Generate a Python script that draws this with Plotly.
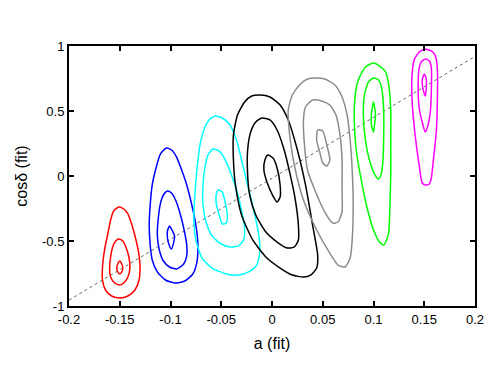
import plotly.graph_objects as go

# tick labels
x_ticks = [-0.2, -0.15, -0.1, -0.05, 0, 0.05, 0.1, 0.15, 0.2]
x_labels = ["-0.2", "-0.15", "-0.1", "-0.05", "0", "0.05", "0.1", "0.15", "0.2"]
y_ticks = [-1, -0.5, 0, 0.5, 1]
y_labels = ["-1", "-0.5", "0", "0.5", "1"]

# diagonal reference line
diag_x = [-0.2, 0.2]
diag_y = [-0.955, 0.92]

# contour loops (outer, middle, inner per input value)
red_outer_x = [-0.151,-0.146,-0.142,-0.138,-0.134,-0.131,-0.130,-0.131,-0.135,-0.142,-0.150,-0.158,-0.164,-0.167,-0.167,-0.165,-0.162,-0.159,-0.156,-0.151]
red_outer_y = [-0.238,-0.254,-0.292,-0.377,-0.492,-0.608,-0.708,-0.800,-0.877,-0.923,-0.938,-0.923,-0.877,-0.800,-0.700,-0.569,-0.454,-0.338,-0.269,-0.238]
red_mid_x = [-0.151,-0.147,-0.144,-0.141,-0.140,-0.142,-0.146,-0.150,-0.155,-0.159,-0.160,-0.159,-0.157,-0.154,-0.151]
red_mid_y = [-0.485,-0.500,-0.546,-0.623,-0.708,-0.777,-0.823,-0.838,-0.823,-0.777,-0.708,-0.623,-0.546,-0.500,-0.485]
red_in_x = [-0.150,-0.148,-0.147,-0.148,-0.150,-0.152,-0.153,-0.152,-0.150]
red_in_y = [-0.654,-0.677,-0.708,-0.738,-0.754,-0.738,-0.708,-0.677,-0.654]

blue_out_x = [-0.104,-0.099,-0.094,-0.089,-0.084,-0.079,-0.075,-0.073,-0.074,-0.078,-0.086,-0.096,-0.105,-0.113,-0.118,-0.120,-0.121,-0.120,-0.118,-0.114,-0.110,-0.104]
blue_out_y = [0.215,0.200,0.146,0.046,-0.069,-0.223,-0.377,-0.531,-0.662,-0.754,-0.808,-0.823,-0.800,-0.738,-0.646,-0.531,-0.377,-0.223,-0.069,0.069,0.169,0.215]
blue_mid_x = [-0.103,-0.099,-0.095,-0.091,-0.087,-0.084,-0.084,-0.087,-0.094,-0.101,-0.107,-0.111,-0.113,-0.112,-0.110,-0.107,-0.103]
blue_mid_y = [-0.115,-0.131,-0.185,-0.277,-0.400,-0.531,-0.615,-0.677,-0.715,-0.700,-0.654,-0.569,-0.454,-0.323,-0.215,-0.146,-0.115]
blue_in_x = [-0.101,-0.099,-0.096,-0.097,-0.099,-0.101,-0.103,-0.103,-0.101]
blue_in_y = [-0.385,-0.408,-0.462,-0.515,-0.562,-0.538,-0.477,-0.423,-0.385]

cyan_out_x = [-0.056,-0.049,-0.042,-0.035,-0.030,-0.024,-0.018,-0.013,-0.012,-0.015,-0.023,-0.033,-0.045,-0.059,-0.069,-0.075,-0.077,-0.076,-0.074,-0.071,-0.066,-0.062,-0.056]
cyan_out_y = [0.462,0.446,0.400,0.277,0.123,-0.069,-0.262,-0.454,-0.585,-0.685,-0.738,-0.762,-0.754,-0.708,-0.631,-0.492,-0.338,-0.146,0.046,0.238,0.377,0.431,0.462]
cyan_mid_x = [-0.058,-0.052,-0.047,-0.041,-0.035,-0.030,-0.027,-0.028,-0.033,-0.041,-0.050,-0.059,-0.065,-0.068,-0.068,-0.066,-0.063,-0.058]
cyan_mid_y = [0.208,0.192,0.138,0.031,-0.108,-0.262,-0.400,-0.492,-0.538,-0.546,-0.523,-0.462,-0.354,-0.223,-0.069,0.069,0.162,0.208]
cyan_in_x = [-0.053,-0.049,-0.046,-0.044,-0.045,-0.049,-0.052,-0.055,-0.055,-0.053]
cyan_in_y = [-0.108,-0.123,-0.208,-0.300,-0.362,-0.369,-0.300,-0.208,-0.146,-0.108]

black_out_x = [-0.012,-0.002,0.008,0.016,0.025,0.033,0.040,0.045,0.044,0.038,0.031,0.020,0.008,-0.005,-0.019,-0.030,-0.036,-0.038,-0.038,-0.034,-0.027,-0.020,-0.012]
black_out_y = [0.623,0.608,0.546,0.431,0.200,-0.069,-0.377,-0.608,-0.708,-0.762,-0.777,-0.762,-0.708,-0.631,-0.492,-0.300,-0.069,0.123,0.315,0.469,0.569,0.615,0.623]
black_mid_x = [-0.010,-0.002,0.005,0.012,0.018,0.023,0.026,0.026,0.022,0.015,0.005,-0.006,-0.016,-0.022,-0.024,-0.024,-0.021,-0.016,-0.010]
black_mid_y = [0.446,0.431,0.354,0.200,0.008,-0.185,-0.377,-0.492,-0.546,-0.554,-0.508,-0.431,-0.300,-0.146,0.008,0.200,0.338,0.415,0.446]
black_in_x = [-0.004,0.001,0.005,0.008,0.008,0.005,0.001,-0.005,-0.008,-0.007,-0.004]
black_in_y = [0.162,0.138,0.062,-0.069,-0.162,-0.200,-0.154,-0.046,0.046,0.123,0.162]

gray_out_x = [0.042,0.052,0.062,0.069,0.074,0.077,0.079,0.080,0.079,0.077,0.072,0.065,0.055,0.043,0.031,0.023,0.018,0.016,0.020,0.028,0.035,0.042]
gray_out_y = [0.754,0.746,0.700,0.608,0.469,0.277,0.046,-0.223,-0.492,-0.631,-0.700,-0.685,-0.569,-0.400,-0.185,0.046,0.277,0.508,0.623,0.708,0.746,0.754]
gray_mid_x = [0.040,0.049,0.057,0.063,0.067,0.069,0.069,0.069,0.065,0.060,0.052,0.043,0.035,0.032,0.031,0.033,0.040]
gray_mid_y = [0.585,0.577,0.546,0.469,0.315,0.123,-0.108,-0.277,-0.354,-0.362,-0.277,-0.123,0.046,0.238,0.431,0.531,0.585]
gray_in_x = [0.045,0.050,0.054,0.057,0.054,0.050,0.047,0.044,0.045]
gray_in_y = [0.354,0.346,0.238,0.123,0.077,0.100,0.185,0.277,0.354]

green_out_x = [0.100,0.106,0.112,0.115,0.117,0.117,0.117,0.116,0.115,0.112,0.110,0.106,0.100,0.093,0.087,0.083,0.081,0.082,0.085,0.092,0.100]
green_out_y = [0.869,0.846,0.800,0.700,0.508,0.277,0.008,-0.262,-0.431,-0.508,-0.531,-0.508,-0.415,-0.223,0.008,0.200,0.431,0.623,0.738,0.838,0.869]
green_mid_x = [0.100,0.105,0.108,0.110,0.110,0.109,0.107,0.105,0.101,0.096,0.092,0.090,0.091,0.095,0.100]
green_mid_y = [0.754,0.738,0.677,0.508,0.277,0.085,0.000,-0.023,0.015,0.123,0.277,0.469,0.623,0.723,0.754]
green_in_x = [0.100,0.101,0.102,0.101,0.100,0.098,0.098,0.100]
green_in_y = [0.569,0.531,0.469,0.392,0.338,0.392,0.485,0.569]

magenta_out_x = [0.151,0.157,0.161,0.163,0.163,0.162,0.159,0.157,0.155,0.151,0.148,0.145,0.141,0.138,0.138,0.140,0.145,0.151]
magenta_out_y = [0.977,0.962,0.923,0.815,0.623,0.354,0.123,-0.015,-0.062,-0.069,-0.054,0.085,0.315,0.585,0.777,0.892,0.954,0.977]
magenta_mid_x = [0.151,0.155,0.157,0.157,0.156,0.154,0.151,0.148,0.145,0.144,0.145,0.147,0.151]
magenta_mid_y = [0.900,0.885,0.831,0.662,0.492,0.400,0.338,0.415,0.523,0.700,0.831,0.877,0.900]
magenta_in_x = [0.150,0.152,0.152,0.151,0.149,0.148,0.150]
magenta_in_y = [0.785,0.746,0.677,0.615,0.662,0.738,0.785]

groups = [
    ("#ff0000", [(red_outer_x, red_outer_y), (red_mid_x, red_mid_y), (red_in_x, red_in_y)]),
    ("#0000ff", [(blue_out_x, blue_out_y), (blue_mid_x, blue_mid_y), (blue_in_x, blue_in_y)]),
    ("#00ffff", [(cyan_out_x, cyan_out_y), (cyan_mid_x, cyan_mid_y), (cyan_in_x, cyan_in_y)]),
    ("#000000", [(black_out_x, black_out_y), (black_mid_x, black_mid_y), (black_in_x, black_in_y)]),
    ("#8c8c8c", [(gray_out_x, gray_out_y), (gray_mid_x, gray_mid_y), (gray_in_x, gray_in_y)]),
    ("#00ff00", [(green_out_x, green_out_y), (green_mid_x, green_mid_y), (green_in_x, green_in_y)]),
    ("#ff00ff", [(magenta_out_x, magenta_out_y), (magenta_mid_x, magenta_mid_y), (magenta_in_x, magenta_in_y)]),
]

fig = go.Figure()
fig.add_trace(go.Scatter(x=diag_x, y=diag_y, mode="lines",
                         line=dict(color="#666666", width=1, dash="dot"),
                         showlegend=False, hoverinfo="skip"))
for col, loops in groups:
    for lx, ly in loops:
        fig.add_trace(go.Scatter(x=lx, y=ly, mode="lines",
                                 line=dict(color=col, width=1.5, shape="spline", smoothing=0.6),
                                 showlegend=False))

axis_style = dict(showline=True, linecolor="black", linewidth=2, mirror="ticks",
                  ticks="inside", ticklen=5, tickwidth=2, tickcolor="black",
                  showgrid=False, zeroline=False,
                  tickfont=dict(family="Liberation Sans, Arial", size=13, color="black"))

# the page body adds an 8px offset, so the figure is a bit smaller than the window
fig.update_layout(
    width=490, height=366,
    margin=dict(l=61, r=23, t=38, b=68),
    paper_bgcolor="white", plot_bgcolor="white",
    font=dict(family="Liberation Sans, Arial", size=13, color="black"),
    xaxis=dict(range=[-0.2, 0.2], tickvals=x_ticks, ticktext=x_labels,
               title=dict(text="a (fit)", standoff=12), **axis_style),
    yaxis=dict(range=[-1, 1], tickvals=y_ticks, ticktext=y_labels,
               title=dict(text="cosδ (fit)", standoff=10), **axis_style),
)

fig.write_html("out.html")
